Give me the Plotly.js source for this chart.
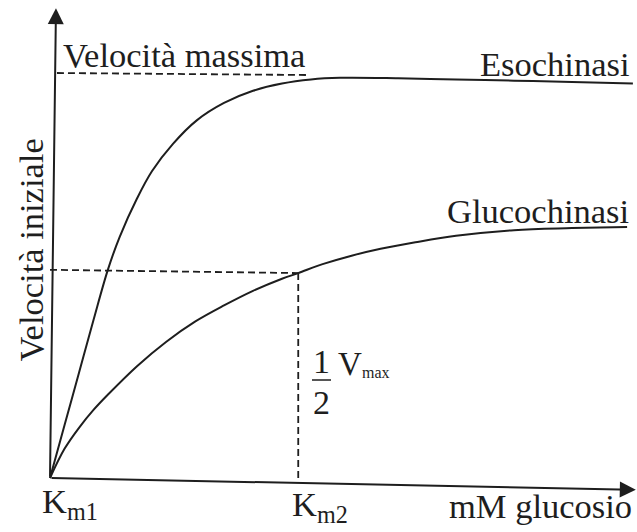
<!DOCTYPE html>
<html>
<head>
<meta charset="utf-8">
<script src="https://cdn.plot.ly/plotly-3.0.1.min.js"></script>
<style>html,body{margin:0;padding:0;background:#fff;}#chart{width:637px;height:532px;}</style>
</head>
<body>
<div id="chart"></div>
<script>
// ---- data (arbitrary units: x = mM glucosio, y = % of Vmax) ----
const esoX   = [0, 2.5, 5.0, 7.5, 10.0, 12.0, 15.0, 17.6, 21.2, 25.3, 30.0, 35.0, 40.0, 45.0, 50.0, 60.0, 70.0, 80.0, 90.0, 100.5];
const esoY   = [0, 13.0, 26.0, 39.0, 51.5, 59.5, 69.0, 75.8, 82.5, 88.3, 92.6, 95.6, 97.4, 98.4, 98.8, 98.7, 98.4, 98.1, 97.8, 97.4];
const glucoX = [0, 2.5, 5.0, 7.5, 10.0, 15.0, 20.0, 25.0, 30.0, 35.0, 40.0, 42.8, 47.0, 52.0, 57.0, 63.0, 70.0, 80.0, 90.0, 99.5];
const glucoY = [0, 7.2, 12.4, 16.8, 20.6, 27.6, 33.6, 38.6, 42.6, 46.2, 49.2, 50.6, 52.8, 54.9, 56.6, 58.2, 59.8, 61.2, 61.7, 62.0];
const vmaxLineX = [1.2, 44.8];
const vmaxLineY = [100, 99.5];
const halfLineX = [0, 42.8];
const halfLineY = [51.4, 50.6];
const km2LineX  = [42.8, 42.8];
const km2LineY  = [50.6, -0.5];
const yAxisTip  = [1.03, 116.0];
const xAxisTip  = [101.0, -2.9];
const labels = {
  vmax: 'Velocità massima', eso: 'Esochinasi', gluco: 'Glucochinasi',
  yTitle: 'Velocità iniziale', xTitle: 'mM glucosio',
  km1: 'K<sub>m1</sub>', km2: 'K<sub>m2</sub>'
};

const ink = '#1e1e1e';
const FONT = "'Liberation Serif', 'Times New Roman', serif";

function curve(x, y) {
  return {x: x, y: y, type: 'scatter', mode: 'lines', hoverinfo: 'skip',
          line: {color: ink, width: 2, shape: 'spline', smoothing: 1}};
}
function dashed(x, y) {
  return {x: x, y: y, type: 'scatter', mode: 'lines', hoverinfo: 'skip',
          line: {color: ink, width: 1.8, dash: '7px,4px'}};
}
const traces = [
  curve(esoX, esoY), curve(glucoX, glucoY),
  dashed(vmaxLineX, vmaxLineY), dashed(halfLineX, halfLineY), dashed(km2LineX, km2LineY)
];

const W = 637, H = 532;
function txt(text, px, py, size, xanchor, extra) {
  return Object.assign({
    text: text, xref: 'paper', yref: 'paper', x: px / W, y: 1 - py / H,
    xanchor: xanchor, yanchor: 'middle', showarrow: false,
    font: {family: FONT, size: size, color: ink}
  }, extra || {});
}
function arrow(tip) {
  return {x: tip[0], y: tip[1], ax: 0, ay: 0, xref: 'x', yref: 'y', axref: 'x', ayref: 'y',
          text: '', showarrow: true, arrowhead: 2, arrowsize: 1.6, arrowwidth: 2,
          arrowcolor: ink, standoff: 0};
}

const S = 34.5;
const annotations = [
  arrow(yAxisTip), arrow(xAxisTip),
  txt(labels.vmax, 61, 54.5, S, 'left'),
  txt(labels.eso, 631, 63.5, S, 'right'),
  txt(labels.gluco, 631, 210.5, S, 'right'),
  txt(labels.yTitle, 30.5, 250, S, 'center', {textangle: -90}),
  txt(labels.xTitle, 634, 506, S, 'right'),
  txt(labels.km1, 40, 503, S, 'left'),
  txt(labels.km2, 290, 506, S, 'left'),
  txt('1', 321, 382, 34, 'center', {yanchor: 'bottom'}),
  txt('2', 321, 382, 34, 'center', {yanchor: 'top'}),
  txt('V', 336, 364, 33, 'left'),
  txt('max', 360, 372.5, 16, 'left')
];

const shapes = [
  {type: 'line', xref: 'paper', yref: 'paper', x0: 312 / W, x1: 331 / W,
   y0: 1 - 380 / H, y1: 1 - 380 / H, line: {color: ink, width: 1.5}}
];

const layout = {
  width: W, height: H, margin: {l: 0, r: 0, t: 0, b: 0},
  paper_bgcolor: '#fff', plot_bgcolor: '#fff', showlegend: false,
  xaxis: {range: [-50 / 5.8, (W - 50) / 5.8], visible: false, fixedrange: true},
  yaxis: {range: [(478 - H) / 4.05, 478 / 4.05], visible: false, fixedrange: true},
  annotations: annotations, shapes: shapes
};
Plotly.newPlot('chart', traces, layout, {staticPlot: true});
</script>
</body>
</html>
